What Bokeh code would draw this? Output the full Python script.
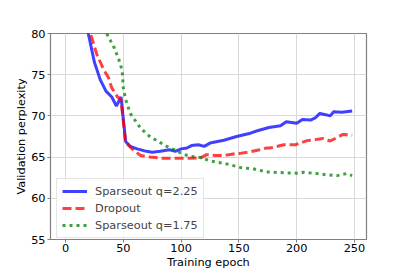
from bokeh.plotting import figure
from bokeh.models import Legend, LegendItem, FixedTicker, Range1d
from bokeh.embed import file_html
from bokeh.resources import INLINE

# ---- data ----
blue_x = [15, 20, 25, 30, 35, 40, 44, 48, 52, 56, 62, 70, 75, 82, 90, 95, 100, 105, 109, 115, 120, 125, 137, 148, 160, 166, 176, 186, 191, 200, 205, 212, 216, 220, 225, 229, 232, 239, 248]
blue_y = [83.0, 79.8, 76.5, 74.4, 73.0, 72.3, 71.2, 72.3, 66.9, 66.3, 66.0, 65.7, 65.6, 65.7, 65.9, 65.7, 66.0, 66.1, 66.4, 66.5, 66.3, 66.7, 67.05, 67.5, 67.9, 68.2, 68.6, 68.8, 69.3, 69.1, 69.55, 69.5, 69.75, 70.3, 70.15, 70.0, 70.5, 70.45, 70.6]

red_x = [15, 22, 27, 33, 37, 40, 45, 48, 52, 59, 65, 73, 85, 99, 108, 117, 122, 130, 137, 148, 151, 160, 168, 174, 177, 186, 189, 199, 209, 223, 229, 240, 248]
red_y = [82.8, 79.8, 77.5, 75.6, 74.7, 73.4, 72.3, 71.9, 66.8, 65.8, 65.2, 65.0, 64.85, 64.85, 64.85, 64.9, 65.3, 65.2, 65.2, 65.45, 65.45, 65.65, 65.9, 66.1, 66.1, 66.4, 66.5, 66.5, 67.0, 67.25, 66.95, 67.75, 67.65]

green_x = [30, 36, 42, 46, 49, 50, 52, 56, 65, 72, 79, 90, 94, 102, 108, 117, 125, 140, 151, 163, 174, 189, 200, 206, 217, 226, 235, 243, 248]
green_y = [81.5, 79.9, 78.3, 76.9, 75.5, 73.4, 72.0, 70.3, 68.5, 67.6, 67.0, 66.1, 65.9, 65.35, 65.1, 64.95, 64.55, 64.15, 63.75, 63.55, 63.2, 63.1, 63.05, 63.15, 63.0, 62.85, 62.75, 63.0, 62.75]

labels = ["Sparseout q=2.25", "Dropout", "Sparseout q=1.75"]
x_ticks = [0, 50, 100, 150, 200, 250]
y_ticks = [55, 60, 65, 70, 75, 80]

FONT = "DejaVu Sans"
FS = "11.3px"

p = figure(width=407, height=271, output_backend="svg", toolbar_location=None,
           x_range=Range1d(-13, 260.4), y_range=Range1d(55, 80),
           min_border_left=50, min_border_right=41, min_border_top=33, min_border_bottom=30)
p.background_fill_color = "white"
p.border_fill_color = "white"
p.outline_line_color = "#808080"
p.outline_line_width = 1.2

for ax in (p.xaxis[0], p.yaxis[0]):
    ax.axis_line_color = None
    ax.major_tick_out = 3
    ax.major_tick_in = 0
    ax.major_tick_line_color = "#808080"
    ax.minor_tick_line_color = None
    ax.major_label_text_font = FONT
    ax.major_label_text_font_size = FS
    ax.major_label_text_color = "black"
    ax.axis_label_text_font = FONT
    ax.axis_label_text_font_size = FS
    ax.axis_label_text_font_style = "normal"
    ax.axis_label_text_color = "black"

p.xaxis.ticker = FixedTicker(ticks=x_ticks)
p.yaxis.ticker = FixedTicker(ticks=y_ticks)
p.xaxis.major_label_standoff = 1
p.yaxis.major_label_standoff = 2
p.xaxis.axis_label_standoff = 1
p.yaxis.axis_label_standoff = 0
p.xaxis.axis_label = "Training epoch"
p.yaxis.axis_label = "Validation perplexity"

p.xgrid.grid_line_color = "#d9d9d9"
p.ygrid.grid_line_color = "#d9d9d9"
p.xgrid.grid_line_width = 1
p.ygrid.grid_line_width = 1

r1 = p.line(blue_x, blue_y, line_color="#0000ff", line_alpha=0.75, line_width=3)
r2 = p.line(red_x, red_y, line_color="#ff0000", line_alpha=0.75, line_width=3, line_dash="9 4")
r3 = p.line(green_x, green_y, line_color="#008000", line_alpha=0.75, line_width=3, line_dash="3 4")

legend = Legend(items=[LegendItem(label=labels[0], renderers=[r1]),
                       LegendItem(label=labels[1], renderers=[r2]),
                       LegendItem(label=labels[2], renderers=[r3])],
                location=(6, 1))
legend.label_text_font = FONT
legend.label_text_font_size = FS
legend.glyph_width = 25
legend.glyph_height = 14
legend.label_height = 14
legend.label_standoff = 8
legend.spacing = 3
legend.padding = 5
legend.margin = 0
legend.border_line_color = "#cccccc"
legend.border_line_width = 1
legend.background_fill_alpha = 0.8
p.add_layout(legend, "center")

open("out.html", "w").write(file_html(p, INLINE))
